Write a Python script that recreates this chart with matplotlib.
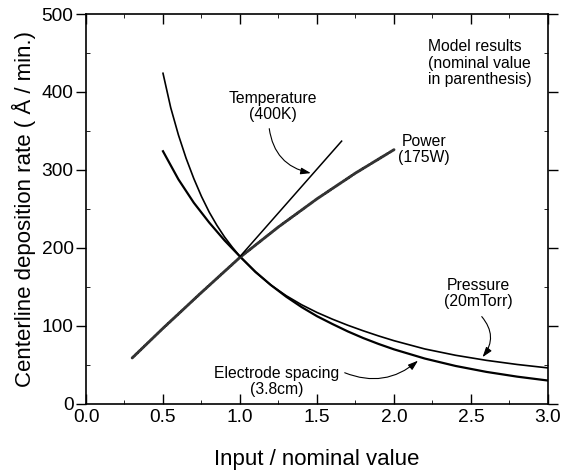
import matplotlib
matplotlib.use("Agg")
import matplotlib.pyplot as plt
from matplotlib.ticker import MultipleLocator

plt.rcParams['font.family'] = ['Liberation Sans', 'DejaVu Sans']

# Data
pressure_x = [0.5, 0.55, 0.6, 0.65, 0.7, 0.75, 0.8, 0.85, 0.9, 0.95, 1.0,
              1.1, 1.2, 1.3, 1.4, 1.5, 1.6, 1.7, 1.8, 1.9, 2.0,
              2.2, 2.4, 2.6, 2.8, 3.0]
pressure_y = [424, 380, 345, 315, 289, 266, 246, 229, 214, 201, 189,
              169.0, 152.5, 138.8, 127.2, 117.3, 108.7, 100.9, 93.8, 87.2, 81.1,
              70.5, 62.4, 55.9, 50.6, 46.2]

spacing_x = [0.5, 0.6, 0.7, 0.8, 0.9, 1.0, 1.1, 1.2, 1.3, 1.4, 1.5,
             1.6, 1.7, 1.8, 1.9, 2.0, 2.2, 2.4, 2.6, 2.8, 3.0]
spacing_y = [324, 288, 258, 232.6, 209.6, 189, 169.5, 152.5, 137.5, 124.2, 112.5,
             102.5, 93.0, 84.5, 76.9, 70.0, 58.2, 48.7, 41.1, 35.0, 30.0]

power_x = [0.3, 0.5, 0.75, 1.0, 1.25, 1.5, 1.75, 2.0]
power_y = [59, 97, 143, 188, 227, 263, 296, 326]

temp_x = [1.0, 1.66]
temp_y = [189, 337]

xticks = [0.0, 0.5, 1.0, 1.5, 2.0, 2.5, 3.0]
yticks = [0, 100, 200, 300, 400, 500]

fig = plt.figure(figsize=(5.61, 4.73), dpi=100)
ax = fig.add_axes([0.1533, 0.146, 0.8235, 0.8244])

ax.plot(pressure_x, pressure_y, color='black', lw=1.2)
ax.plot(spacing_x, spacing_y, color='black', lw=1.6)
ax.plot(power_x, power_y, color='#333333', lw=2.1, linestyle=(0, (1.0, 0.45)),
        dash_capstyle='round')
ax.plot(temp_x, temp_y, color='black', lw=1.1)

ax.set_xlim(0, 3.0)
ax.set_ylim(0, 500)
ax.set_xticks(xticks)
ax.set_xticklabels([f"{v:.1f}" for v in xticks])
ax.set_yticks(yticks)
ax.set_yticklabels([str(v) for v in yticks])
ax.xaxis.set_minor_locator(MultipleLocator(0.25))
ax.yaxis.set_minor_locator(MultipleLocator(50))

ax.tick_params(which='major', direction='in', length=7, width=1, labelsize=13.8,
               top=True, right=True, pad=4)
ax.tick_params(which='minor', direction='in', length=3, width=0.6, top=True, right=True)
ax.tick_params(axis='y', which='major', direction='out', length=7, pad=2)
for s in ax.spines.values():
    s.set_linewidth(1.2)

ax.set_xlabel("Input / nominal value", fontsize=16, labelpad=16)
ax.set_ylabel("Centerline deposition rate ( Å / min.)", fontsize=16, labelpad=4)

fs = 11.3
ax.text(2.22, 437, "Model results\n(nominal value\nin parenthesis)", fontsize=fs,
        ha='left', va='center', linespacing=1.1)
ax.text(1.214, 381, "Temperature\n(400K)", fontsize=fs, ha='center', va='center',
        linespacing=1.1)
ax.text(2.195, 326, "Power\n(175W)", fontsize=fs, ha='center', va='center', linespacing=1.1)
ax.text(2.55, 142, "Pressure\n(20mTorr)", fontsize=fs, ha='center', va='center',
        linespacing=1.1)
ax.text(1.237, 29, "Electrode spacing\n(3.8cm)", fontsize=fs, ha='center', va='center',
        linespacing=1.1)

arrow = dict(arrowstyle='-|>,head_length=0.6,head_width=0.2', color='black', lw=0.8,
             shrinkA=0, shrinkB=0)
ax.annotate("", xy=(1.46, 296), xytext=(1.19, 353),
            arrowprops=dict(arrow, connectionstyle="arc3,rad=0.35"))
ax.annotate("", xy=(2.575, 60), xytext=(2.57, 112),
            arrowprops=dict(arrow, connectionstyle="arc3,rad=-0.4"))
ax.annotate("", xy=(2.156, 55.5), xytext=(1.68, 40),
            arrowprops=dict(arrow, connectionstyle="arc3,rad=0.3"))

fig.savefig("out.png", dpi=100)
